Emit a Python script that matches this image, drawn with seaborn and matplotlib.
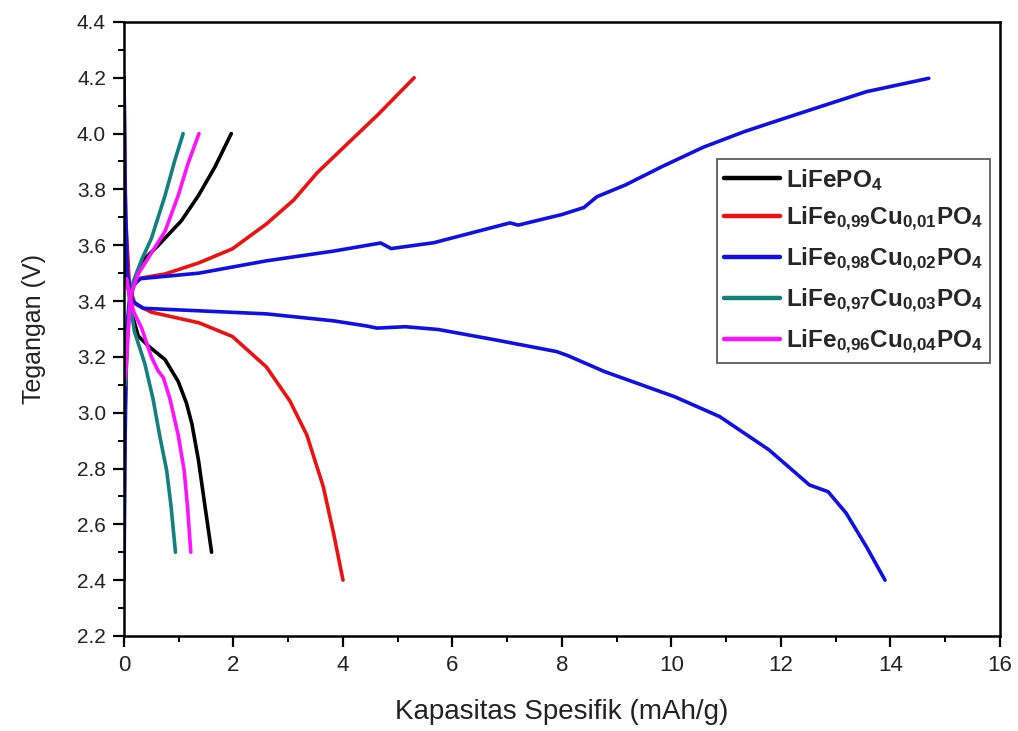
import numpy as np
import pandas as pd
import matplotlib
matplotlib.use("Agg")
import matplotlib.pyplot as plt
import seaborn as sns
from matplotlib.ticker import MultipleLocator

# ---------------- data ----------------
samples = ["LiFePO4", "LiFe0.99Cu0.01PO4", "LiFe0.98Cu0.02PO4",
           "LiFe0.97Cu0.03PO4", "LiFe0.96Cu0.04PO4"]
legend_labels = [
    r"$\mathbf{LiFePO_4}$",
    r"$\mathbf{LiFe_{0{,}99}Cu_{0{,}01}PO_4}$",
    r"$\mathbf{LiFe_{0{,}98}Cu_{0{,}02}PO_4}$",
    r"$\mathbf{LiFe_{0{,}97}Cu_{0{,}03}PO_4}$",
    r"$\mathbf{LiFe_{0{,}96}Cu_{0{,}04}PO_4}$",
]
colors = ["#000000", "#EE1111", "#1010E6", "#138080", "#FF10FF"]

# LiFePO4
c0_x = [0.03, 0.08, 0.16, 0.23, 0.32, 0.62, 1.05, 1.36, 1.66, 1.96]
c0_y = [3.20, 3.33, 3.445, 3.49, 3.541, 3.598, 3.688, 3.778, 3.88, 4.00]
d0_x = [0.0, 0.1, 0.18, 0.26, 0.44, 0.75, 0.99, 1.14, 1.24, 1.36, 1.48, 1.60]
d0_y = [3.55, 3.42, 3.33, 3.275, 3.24, 3.19, 3.112, 3.035, 2.96, 2.83, 2.664, 2.50]

# LiFe0.99Cu0.01PO4
c1_x = [0.0, 0.02, 0.06, 0.15, 0.3, 0.75, 1.37, 1.98, 2.6, 3.1, 3.53, 4.02, 4.64, 5.30]
c1_y = [2.60, 3.00, 3.30, 3.45, 3.482, 3.497, 3.537, 3.587, 3.676, 3.762, 3.86, 3.952, 4.068, 4.20]
d1_x = [0.0, 0.03, 0.1, 0.2, 0.5, 1.37, 1.98, 2.6, 3.03, 3.34, 3.64, 3.83, 4.0]
d1_y = [4.20, 3.70, 3.45, 3.39, 3.36, 3.322, 3.273, 3.164, 3.042, 2.92, 2.735, 2.566, 2.40]

# LiFe0.98Cu0.02PO4
c2_x = [0.0, 0.02, 0.05, 0.12, 0.3, 1.37, 2.6, 3.83, 4.69, 4.88, 5.66, 7.05, 7.2,
        8.0, 8.4, 8.64, 9.16, 9.83, 10.58, 11.33, 12.07, 12.82, 13.56, 14.70]
c2_y = [2.40, 2.90, 3.30, 3.45, 3.48, 3.50, 3.544, 3.579, 3.608, 3.588, 3.609, 3.68, 3.672,
        3.71, 3.735, 3.774, 3.816, 3.882, 3.951, 4.007, 4.055, 4.103, 4.15, 4.198]
d2_x = [0.0, 0.02, 0.06, 0.15, 0.35, 1.37, 2.6, 3.83, 4.45, 4.62, 5.14, 5.74, 6.78,
        7.9, 8.1, 8.78, 10.06, 10.88, 11.78, 12.52, 12.86, 13.19, 13.56, 13.90]
d2_y = [4.20, 3.80, 3.50, 3.40, 3.374, 3.365, 3.354, 3.329, 3.31, 3.303, 3.308, 3.298, 3.261,
        3.219, 3.205, 3.147, 3.057, 2.986, 2.867, 2.741, 2.717, 2.64, 2.52, 2.40]

# LiFe0.97Cu0.03PO4
c3_x = [0.03, 0.06, 0.1, 0.17, 0.32, 0.5, 0.75, 0.93, 1.08]
c3_y = [3.10, 3.25, 3.38, 3.47, 3.547, 3.624, 3.778, 3.905, 4.00]
d3_x = [0.04, 0.08, 0.13, 0.19, 0.38, 0.53, 0.65, 0.78, 0.86, 0.94]
d3_y = [3.48, 3.44, 3.37, 3.291, 3.176, 3.05, 2.92, 2.792, 2.664, 2.50]

# LiFe0.96Cu0.04PO4
c4_x = [0.02, 0.05, 0.08, 0.12, 0.26, 0.5, 0.75, 0.99, 1.17, 1.37]
c4_y = [3.12, 3.20, 3.30, 3.42, 3.497, 3.572, 3.65, 3.778, 3.893, 4.00]
d4_x = [0.05, 0.1, 0.18, 0.32, 0.5, 0.62, 0.72, 0.84, 0.99, 1.1, 1.16, 1.22]
d4_y = [3.48, 3.42, 3.36, 3.304, 3.2, 3.151, 3.125, 3.049, 2.92, 2.792, 2.664, 2.50]

charge = [(c0_x, c0_y), (c1_x, c1_y), (c2_x, c2_y), (c3_x, c3_y), (c4_x, c4_y)]
discharge = [(d0_x, d0_y), (d1_x, d1_y), (d2_x, d2_y), (d3_x, d3_y), (d4_x, d4_y)]

xticks = [0, 2, 4, 6, 8, 10, 12, 14, 16]
yticks = [2.2, 2.4, 2.6, 2.8, 3.0, 3.2, 3.4, 3.6, 3.8, 4.0, 4.2, 4.4]

rows = []
for s, (cx, cy), (dx, dy) in zip(samples, charge, discharge):
    for i, (a, b) in enumerate(zip(cx, cy)):
        rows.append((s, s + "_c", i, a, b))
    for i, (a, b) in enumerate(zip(dx, dy)):
        rows.append((s, s + "_d", i, a, b))
df = pd.DataFrame(rows, columns=["sample", "seg", "order", "cap", "volt"])

# ---------------- plot ----------------
sns.set_theme(style="white")
plt.rcParams["font.family"] = ["Liberation Sans", "DejaVu Sans"]
plt.rcParams["mathtext.fontset"] = "custom"
plt.rcParams["mathtext.rm"] = "Liberation Sans"
plt.rcParams["mathtext.bf"] = "Liberation Sans:bold"
plt.rcParams["mathtext.it"] = "Liberation Sans:italic"

fig = plt.figure(figsize=(10.18, 7.31), dpi=100)
ax = fig.add_axes([0.1218, 0.130, 0.8605, 0.840])

sns.lineplot(data=df, x="cap", y="volt", hue="sample", units="seg",
             estimator=None, sort=False, hue_order=samples,
             palette=dict(zip(samples, colors)), linewidth=2.6, ax=ax)

ax.set_xlim(0, 16)
ax.set_ylim(2.2, 4.4)
ax.set_xticks(xticks)
ax.set_yticks(yticks)
ax.set_xticklabels([str(t) for t in xticks], fontsize=16)
ax.set_yticklabels([f"{t:.1f}" for t in yticks], fontsize=15)
ax.xaxis.set_minor_locator(MultipleLocator(1))
ax.yaxis.set_minor_locator(MultipleLocator(0.1))
ax.tick_params(which="major", direction="out", length=8, width=1.6, color="black",
               bottom=True, left=True, top=False, right=False, labelcolor="#222222", pad=5)
ax.tick_params(which="minor", direction="out", length=4.5, width=1.4, color="black",
               bottom=True, left=True, top=False, right=False)
ax.tick_params(axis="x", pad=6)
for sp in ax.spines.values():
    sp.set_color("black")
    sp.set_linewidth(1.8)

ax.set_xlabel("Kapasitas Spesifik (mAh/g)", fontsize=20, labelpad=16, color="#222222")
ax.set_ylabel("Tegangan (V)", fontsize=18, labelpad=22, color="#222222")

handles, _ = ax.get_legend_handles_labels()
leg = ax.legend(handles[:5], legend_labels, loc="upper right",
                bbox_to_anchor=(0.9886, 0.776), fontsize=17.5, frameon=True,
                fancybox=False, edgecolor="#333333", handlelength=2.3,
                handletextpad=0.25, borderpad=0.3, labelspacing=0.52, borderaxespad=0)
leg.get_frame().set_linewidth(1.3)
for h in leg.get_lines():
    h.set_linewidth(3.2)

fig.savefig("out.png", dpi=100)
